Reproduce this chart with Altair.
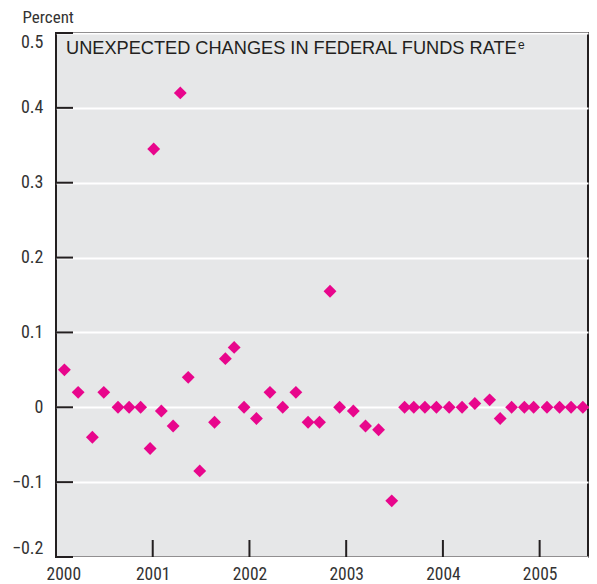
import altair as alt
import pandas as pd

years = [2000.087, 2000.229, 2000.376, 2000.494, 2000.641, 2000.756, 2000.875, 2000.973,
         2001.010, 2001.089, 2001.211, 2001.285, 2001.367, 2001.486, 2001.639, 2001.751,
         2001.842, 2001.944, 2002.072, 2002.212, 2002.344, 2002.480, 2002.606, 2002.724,
         2002.833, 2002.932, 2003.074, 2003.200, 2003.335, 2003.471, 2003.604, 2003.699,
         2003.814, 2003.933, 2004.065, 2004.198, 2004.330, 2004.483, 2004.592, 2004.710,
         2004.842, 2004.938, 2005.076, 2005.206, 2005.325, 2005.447]
changes = [0.05, 0.02, -0.04, 0.02, 0.0, 0.0, 0.0, -0.055,
           0.345, -0.005, -0.025, 0.42, 0.04, -0.085, -0.02, 0.065,
           0.08, 0.0, -0.015, 0.02, 0.0, 0.02, -0.02, -0.02,
           0.155, 0.0, -0.005, -0.025, -0.03, -0.125, 0.0, 0.0,
           0.0, 0.0, 0.0, 0.0, 0.005, 0.01, -0.015, 0.0,
           0.0, 0.0, 0.0, 0.0, 0.0, 0.0]
x_ticks = [2000, 2001, 2002, 2003, 2004, 2005]
y_ticks = [-0.2, -0.1, 0.0, 0.1, 0.2, 0.3, 0.4, 0.5]
title_text = "UNEXPECTED CHANGES IN FEDERAL FUNDS RATE"

W, H = 532, 524
DARK = "#231f20"
PINK = "#e8068c"
COND = "Liberation Sans Narrow, Roboto Condensed, DejaVu Sans Condensed, sans-serif"

df = pd.DataFrame({"year": years, "change": changes})
xt = pd.DataFrame({"year": x_ticks[1:]})
yt = pd.DataFrame({"change": y_ticks})

xscale = alt.Scale(domain=[2000, 2005.5], nice=False, zero=False)
yscale = alt.Scale(domain=[-0.2, 0.5], nice=False, zero=False)

xaxis = alt.Axis(values=x_ticks, format="d", title=None, grid=False, ticks=False,
                 domain=False, labelFlush=True, labelFlushOffset=10, labelPadding=8,
                 labelFont=COND, labelFontSize=17.5, labelColor="#333333",
                 labelBaseline="top")
yaxis = alt.Axis(values=y_ticks, format=".1~f", title="Percent", grid=True,
                 gridColor="white", gridWidth=2, gridOpacity=1, ticks=False,
                 domain=False, labelFlush=True, labelPadding=13,
                 labelFont=COND, labelFontSize=18, labelColor="#333333",
                 titleAngle=0, titleAlign="left", titleBaseline="alphabetic",
                 titleX=-34, titleY=-11, titleFont=COND, titleFontSize=17,
                 titleFontWeight="normal", titleColor="#333333")

points = alt.Chart(df).mark_point(shape="diamond", filled=True, size=165,
                                  color=PINK, opacity=1).encode(
    x=alt.X("year:Q", scale=xscale, axis=xaxis),
    y=alt.Y("change:Q", scale=yscale, axis=yaxis),
)

yticks = alt.Chart(yt).mark_rule(color=DARK, strokeWidth=2).encode(
    y=alt.Y("change:Q", scale=yscale),
    x=alt.value(0), x2=alt.value(17),
)
xticks = alt.Chart(xt).mark_rule(color=DARK, strokeWidth=2).encode(
    x=alt.X("year:Q", scale=xscale),
    y=alt.value(H - 17), y2=alt.value(H),
)

title = alt.Chart(pd.DataFrame({"t": [title_text]})).mark_text(
    align="left", baseline="alphabetic", font="Liberation Sans", fontSize=18.2,
    color=DARK).encode(text="t:N", x=alt.value(10), y=alt.value(21))
sup = alt.Chart(pd.DataFrame({"t": ["e"]})).mark_text(
    align="left", baseline="alphabetic", font="Liberation Sans", fontSize=12,
    color=DARK).encode(text="t:N", x=alt.value(462), y=alt.value(16))

chart = alt.layer(yticks, xticks, points, title, sup).properties(
    width=W, height=H,
    autosize=alt.AutoSizeParams(type="none"),
    padding={"left": 48, "top": 25, "right": 1, "bottom": 30},
).configure_view(fill="#e6e7e8", stroke=DARK, strokeWidth=2)

chart.save("out.html", embed_options={"renderer": "svg", "actions": False})
